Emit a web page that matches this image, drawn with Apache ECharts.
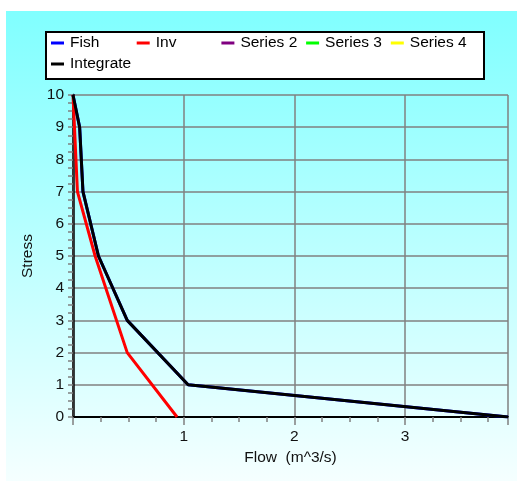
<!DOCTYPE html>
<html><head><meta charset="utf-8">
<script src="https://cdn.jsdelivr.net/npm/echarts@6/dist/echarts.min.js"></script>
<style>html,body{margin:0;padding:0;background:#fff}#c{width:517px;height:481px}</style>
</head><body><div id="c"></div>
<script>
// ---- data ----
const seriesNames = ['Fish', 'Inv', 'Series 2', 'Series 3', 'Series 4', 'Integrate'];
const seriesColors = ['#0000ff', '#ff0000', '#800080', '#00ff00', '#ffff00', '#000000'];
const fishFlow = [0, 0.06, 0.09, 0.23, 0.49, 1.04, 3.93];
const fishStress = [10, 9, 7, 5, 3, 1, 0];
const invFlow = [0, 0.04, 0.2, 0.49, 0.94];
const invStress = [10, 7, 5, 2, 0];
const series2Flow = [];
const series2Stress = [];
const series3Flow = [];
const series3Stress = [];
const series4Flow = [];
const series4Stress = [];
const integrateFlow = [0, 0.06, 0.09, 0.23, 0.49, 1.04, 3.93];
const integrateStress = [10, 9, 7, 5, 3, 1, 0];
const xTickLabels = ['1', '2', '3'];
const yTickLabels = ['0', '1', '2', '3', '4', '5', '6', '7', '8', '9', '10'];
const xMax = 3.93;
const yMax = 10;
const xTitle = 'Flow  (m^3/s)';
const yTitle = 'Stress';

const pairs = (xs, ys) => xs.map((x, i) => [x, ys[i]]);
const seriesData = [
  pairs(fishFlow, fishStress),
  pairs(invFlow, invStress),
  pairs(series2Flow, series2Stress),
  pairs(series3Flow, series3Stress),
  pairs(series4Flow, series4Stress),
  pairs(integrateFlow, integrateStress)
];

const FONT = 'Liberation Sans, Arial, sans-serif';
const FS = 15.5;
const chart = echarts.init(document.getElementById('c'), null, {renderer: 'canvas'});

const legendPos = [[51, 34], [136.7, 34], [221.4, 34], [306.1, 34], [390.8, 34], [51, 55]];
const legends = seriesNames.map((n, i) => ({
  data: [n], left: legendPos[i][0], top: legendPos[i][1], padding: 0,
  icon: 'rect', itemWidth: 13, itemHeight: 3, itemGap: 0, selectedMode: false,
  textStyle: {fontFamily: FONT, fontSize: FS, color: '#000', lineHeight: 18, padding: [0, 0, 0, 1]}
}));

const option = {
  animation: false,
  graphic: [
    {type: 'rect', left: 6, top: 11, shape: {width: 511, height: 470}, z: -10, silent: true,
     style: {fill: new echarts.graphic.LinearGradient(0, 0, 0, 1, [
       {offset: 0, color: '#80ffff'}, {offset: 1, color: '#f5ffff'}])}},
    {type: 'rect', left: 45, top: 31, shape: {width: 438, height: 47}, z: -5, silent: true,
     style: {fill: '#ffffff', stroke: '#000', lineWidth: 2}}
  ],
  legend: legends,
  grid: {left: 73, right: 9, top: 95, height: 322, containLabel: false},
  xAxis: [{
    type: 'value', min: 0, max: xMax, interval: 1,
    name: xTitle, nameLocation: 'middle', nameGap: 31,
    nameTextStyle: {fontFamily: FONT, fontSize: FS, color: '#111'},
    axisLine: {show: true, lineStyle: {color: '#000', width: 2}},
    axisTick: {show: true, length: 8, lineStyle: {color: '#808080', width: 1.5}},
    axisLabel: {margin: 12, fontFamily: FONT, fontSize: FS, color: '#111',
      formatter: v => { const k = xTickLabels.indexOf(String(v)); return k >= 0 ? xTickLabels[k] : ''; }},
    splitLine: {show: true, lineStyle: {color: '#808080', width: 1.5}}
  }, {
    type: 'value', min: 0, max: xMax, interval: 0.25, position: 'bottom', offset: 0,
    axisLine: {show: false}, axisLabel: {show: false}, splitLine: {show: false},
    axisTick: {show: true, length: 5, lineStyle: {color: '#808080', width: 1.5}}
  }],
  yAxis: [{
    type: 'value', min: 0, max: yMax, interval: 1,
    name: yTitle, nameLocation: 'middle', nameGap: 33, nameRotate: 90,
    nameTextStyle: {fontFamily: FONT, fontSize: FS, color: '#111'},
    axisLine: {show: true, lineStyle: {color: '#000', width: 2.5}},
    axisTick: {show: true, length: 5, lineStyle: {color: '#808080', width: 1.5}},
    minorTick: {show: true, splitNumber: 4, length: 5, lineStyle: {color: '#808080', width: 1.5}},
    axisLabel: {margin: 9, fontFamily: FONT, fontSize: FS, color: '#111',
      formatter: v => yTickLabels[Math.round(v)]},
    splitLine: {show: true, lineStyle: {color: '#808080', width: 1.5}}
  }, {
    type: 'value', min: 0, max: yMax, position: 'right',
    axisLine: {show: true, lineStyle: {color: '#333', width: 2}},
    axisTick: {show: false}, axisLabel: {show: false}, splitLine: {show: false}
  }],
  series: seriesNames.map((n, i) => ({
    name: n, type: 'line', data: seriesData[i], showSymbol: false, symbol: 'none',
    color: seriesColors[i], lineStyle: {color: seriesColors[i], width: 3},
    z: i === 5 ? 5 : 3
  }))
};
chart.setOption(option);
</script></body></html>
